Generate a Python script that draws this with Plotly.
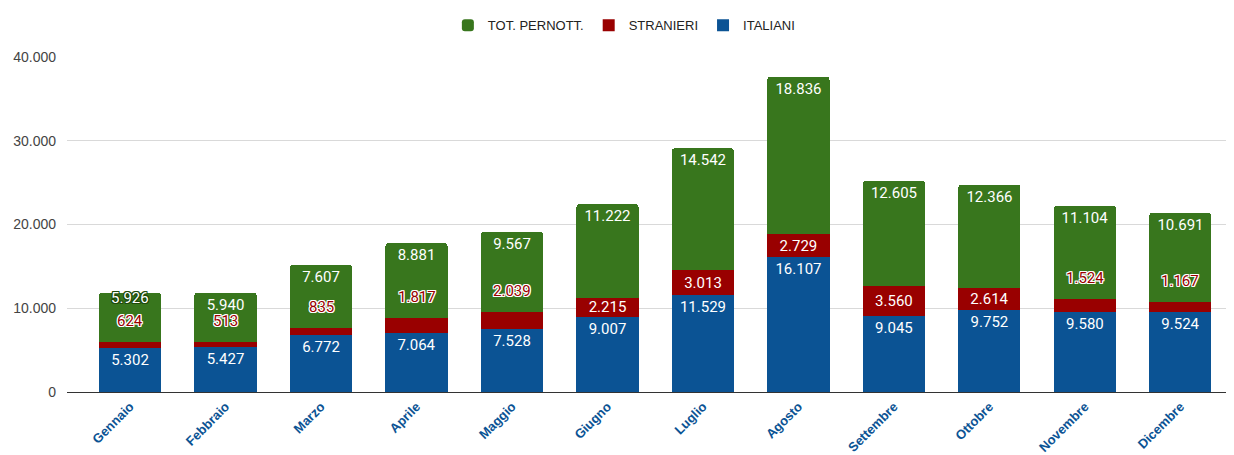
import plotly.graph_objects as go

mesi = ["Gennaio", "Febbraio", "Marzo", "Aprile", "Maggio", "Giugno", "Luglio",
        "Agosto", "Settembre", "Ottobre", "Novembre", "Dicembre"]
italiani = [5302, 5427, 6772, 7064, 7528, 9007, 11529, 16107, 9045, 9752, 9580, 9524]
stranieri = [624, 513, 835, 1817, 2039, 2215, 3013, 2729, 3560, 2614, 1524, 1167]
tot_pernott = [5926, 5940, 7607, 8881, 9567, 11222, 14542, 18836, 12605, 12366, 11104, 10691]

BLUE = "#0b5394"
RED = "#990000"
GREEN = "#38761d"
LABEL_FONT = "Roboto, Arial, sans-serif"
AXIS_FONT = "Arial, Liberation Sans, sans-serif"

# The page body adds an 8px offset, so the figure is 8px smaller each way.
W, H = 1226, 447
ML, MR, MT, MB = 59, 2, 49, 63
YMAX = 40000
PX_PER_UNIT = (H - MT - MB) / YMAX


def fmt(v):
    return f"{v:,}".replace(",", ".")


SMALL = 2100  # stranieri segments too thin to hold their label
str_small = [v < SMALL for v in stranieri]
# green label collides with the lifted stranieri label
green_moved = [s and (t * PX_PER_UNIT - 12.7 - 22) < 15 for s, t in zip(str_small, tot_pernott)]

fig = go.Figure()
fig.add_trace(go.Bar(
    x=mesi, y=italiani, name="ITALIANI", marker=dict(color=BLUE, line=dict(width=0)),
    text=[fmt(v) for v in italiani], textposition="inside", insidetextanchor="end",
    textfont=dict(color="white", size=15, family=LABEL_FONT), textangle=0,
))
fig.add_trace(go.Bar(
    x=mesi, y=stranieri, name="STRANIERI", marker=dict(color=RED, line=dict(width=0)),
    text=["" if s else fmt(v) for v, s in zip(stranieri, str_small)],
    textposition="inside", insidetextanchor="middle",
    textfont=dict(color="white", size=15, family=LABEL_FONT), textangle=0,
))
fig.add_trace(go.Bar(
    x=mesi, y=tot_pernott, name="TOT. PERNOTT.", marker=dict(color=GREEN, line=dict(width=0), cornerradius=3),
    text=["" if g else fmt(v) for v, g in zip(tot_pernott, green_moved)],
    textposition="inside", insidetextanchor="end",
    textfont=dict(color="white", size=15, family=LABEL_FONT), textangle=0,
))

white_outline = ", ".join(f"{dx}px {dy}px 0 #fff" for dx in (-1, 0, 1) for dy in (-1, 0, 1) if dx or dy)
green_outline = ", ".join(f"{dx}px {dy}px 0 #1e4a0c" for dx in (-1, 0, 1) for dy in (-1, 0, 1) if dx or dy)
for m, it, st, tp, s, g in zip(mesi, italiani, stranieri, tot_pernott, str_small, green_moved):
    if s:
        fig.add_annotation(
            x=m, y=it + st, yref="y", xref="x", text=fmt(st), showarrow=False,
            yanchor="middle", yshift=21,
            font=dict(color=RED, size=15, family=LABEL_FONT, shadow=white_outline),
        )
    if g:
        fig.add_annotation(
            x=m, y=it + st + tp, yref="y", xref="x", text=fmt(tp), showarrow=False,
            yanchor="middle", yshift=-5,
            font=dict(color="white", size=15, family=LABEL_FONT, shadow=green_outline),
        )

fig.update_layout(
    barmode="stack",
    bargap=0.35,
    width=W, height=H,
    margin=dict(l=ML, r=MR, t=MT, b=MB, autoexpand=False),
    paper_bgcolor="white", plot_bgcolor="white",
    separators=",.",
    uniformtext=dict(minsize=15, mode="show"),
    legend=dict(
        orientation="h", x=0.478, xanchor="center", y=0.995, yref="container", yanchor="top",
        traceorder="reversed", font=dict(family=AXIS_FONT, size=13, color="#222"),
        itemwidth=30, itemsizing="constant",
    ),
    font=dict(family=AXIS_FONT),
    showlegend=True,
)
fig.update_xaxes(
    tickangle=-45, tickfont=dict(family=AXIS_FONT, size=13, color=BLUE, weight="bold"),
    showline=True, linecolor="#333", linewidth=1, showgrid=False,
    range=[-0.66, 11.54], automargin=False, ticklabelstandoff=1,
)
fig.update_yaxes(
    range=[0, YMAX], dtick=10000, tickformat=",d",
    tickfont=dict(family=AXIS_FONT, size=14, color="#444"),
    showgrid=True, gridcolor="#d9d9d9", gridwidth=1,
    zeroline=True, zerolinecolor="#333", zerolinewidth=1,
    ticklabelstandoff=10, automargin=False,
)

fig.write_html("out.html")
